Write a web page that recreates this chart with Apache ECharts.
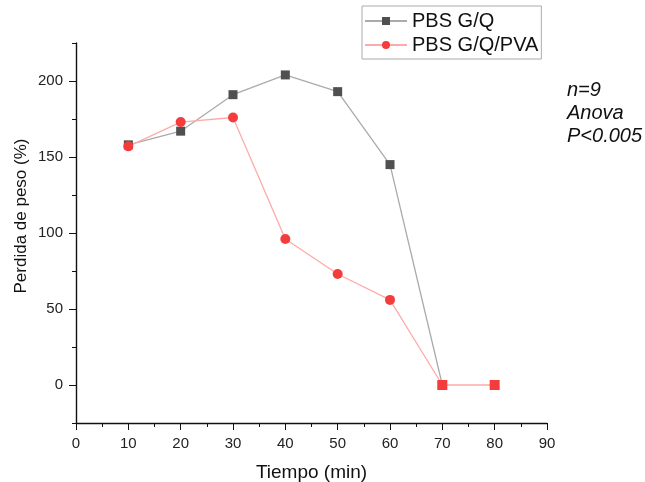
<!DOCTYPE html>
<html><head><meta charset="utf-8">
<script src="https://cdn.jsdelivr.net/npm/echarts@6/dist/echarts.min.js"></script>
<style>html,body{margin:0;padding:0;background:#fff}#c{width:645px;height:482px}</style>
</head><body><div id="c"></div>
<script>
const times = [10, 20, 30, 40, 50, 60, 70, 80];
const seriesNames = ['PBS G/Q', 'PBS G/Q/PVA'];
const gqValues = [158, 167, 191, 204, 193, 145, 0];
const gqPvaValues = [157, 173, 176, 96, 73, 56, 0, 0];
const pvaSymbols = ['circle', 'circle', 'circle', 'circle', 'circle', 'circle', 'rect', 'rect'];
const yMajorTicks = [0, 50, 100, 150, 200];
const xAxisTitle = 'Tiempo (min)';
const yAxisTitle = 'Perdida de peso (%)';
const annotationLines = ['n=9', 'Anova', 'P<0.005'];

const font = 'Liberation Sans, Arial, sans-serif';
const chart = echarts.init(document.getElementById('c'), null, {renderer: 'canvas'});
const gqData = gqValues.map((v, i) => [times[i], v]);
const pvaData = gqPvaValues.map((v, i) => ({value: [times[i], v], symbol: pvaSymbols[i]}));

chart.setOption({
  animation: false,
  backgroundColor: '#fff',
  grid: {left: 76, right: 98, top: 43, bottom: 59, containLabel: false, outerBoundsMode: 'none'},
  legend: {
    orient: 'vertical', left: 362, top: 6,
    padding: [5, 3, 4, 2], itemGap: 4, itemWidth: 42, itemHeight: 10,
    borderColor: '#aaa', borderWidth: 1, backgroundColor: '#fff',
    textStyle: {fontFamily: font, fontSize: 20, color: '#111'},
    data: seriesNames
  },
  xAxis: {
    type: 'value', min: 0, max: 90, interval: 10,
    axisLine: {onZero: false, lineStyle: {color: '#111', width: 1.4}},
    axisTick: {show: true, inside: false, length: 7, lineStyle: {color: '#111'}},
    minorTick: {show: true, splitNumber: 2, length: 4, lineStyle: {color: '#111'}},
    splitLine: {show: false},
    axisLabel: {fontFamily: font, fontSize: 15, color: '#222', margin: 13},
    name: xAxisTitle, nameLocation: 'middle', nameGap: 40,
    nameTextStyle: {fontFamily: font, fontSize: 19, color: '#111'}
  },
  yAxis: [{
    type: 'value', min: -25, max: 225, interval: 25,
    axisLine: {onZero: false, lineStyle: {color: '#111', width: 1.4}},
    axisTick: {show: true, length: 4, lineStyle: {color: '#111'}},
    splitLine: {show: false},
    axisLabel: {show: false}
  }, {
    type: 'value', min: -25, max: 225, position: 'left',
    axisLine: {show: false},
    axisTick: {show: true, length: 7, customValues: yMajorTicks, lineStyle: {color: '#111'}},
    splitLine: {show: false},
    axisLabel: {fontFamily: font, fontSize: 15, color: '#222', margin: 13, customValues: yMajorTicks}
  }],
  series: [{
    name: seriesNames[0], type: 'line', data: gqData,
    symbol: 'rect', symbolSize: 9,
    itemStyle: {color: '#505050'},
    lineStyle: {color: '#aaaaaa', width: 1.3}
  }, {
    name: seriesNames[1], type: 'line', data: pvaData,
    symbol: 'circle', symbolSize: 10,
    itemStyle: {color: '#f53c3c'},
    lineStyle: {color: '#ffaaaa', width: 1.3}
  }],
  graphic: [{
    type: 'text', left: 567, top: 79,
    style: {text: annotationLines.join('\n'), font: 'italic 20px ' + font, lineHeight: 23, fill: '#111'}
  }, {
    type: 'text', x: 21, y: 216, rotation: Math.PI / 2,
    style: {text: yAxisTitle, font: '17px ' + font, fill: '#111', align: 'center', verticalAlign: 'middle'}
  }]
});
</script></body></html>
